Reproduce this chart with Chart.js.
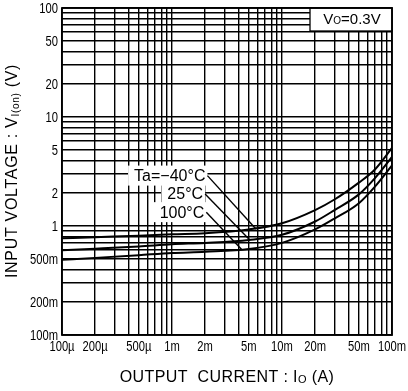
<!DOCTYPE html>
<html>
<head>
<meta charset="utf-8">
<script src="https://cdn.jsdelivr.net/npm/chart.js@4.4.1/dist/chart.umd.min.js"></script>
<style>
  html, body { margin: 0; padding: 0; background: #fff; }
  #wrap { width: 408px; height: 391px; }
</style>
</head>
<body>
<div id="wrap"><canvas id="chart" width="408" height="391"></canvas></div>
<script>
// tick labels (log axes, 1-2-5 labels)
const xTickValues = [1e-4, 2e-4, 5e-4, 1e-3, 2e-3, 5e-3, 1e-2, 2e-2, 5e-2, 1e-1];
const xTickLabels = ['100µ', '200µ', '500µ', '1m', '2m', '5m', '10m', '20m', '50m', '100m'];
const yTickValues = [0.1, 0.2, 0.5, 1, 2, 5, 10, 20, 50, 100];
const yTickLabels = ['100m', '200m', '500m', '1', '2', '5', '10', '20', '50', '100'];

// output current Io (A)
const currentA = [1e-4, 2e-4, 5e-4, 1e-3, 2e-3, 5e-3, 1e-2, 2e-2, 3e-2, 5e-2, 7e-2, 1e-1];
// input voltage VI(on) (V) per ambient temperature
const vMinus40 = [0.77, 0.79, 0.815, 0.84, 0.86, 0.93, 1.06, 1.40, 1.75, 2.5, 3.3, 5.2];
const v25 = [0.60, 0.62, 0.65, 0.68, 0.70, 0.745, 0.83, 1.10, 1.40, 1.95, 2.75, 4.3];
const v100 = [0.49, 0.51, 0.54, 0.565, 0.58, 0.615, 0.70, 0.93, 1.17, 1.62, 2.3, 3.6];

const seriesLabels = ['Ta=\u221240\u00b0C', '25\u00b0C', '100\u00b0C'];

// leader lines from label to curve: [start, end]
const leaderX = [[2.1e-3, 5.8e-3], [2.0e-3, 5.1e-3], [2.05e-3, 4.3e-3]];
const leaderY = [[2.9, 0.94], [1.97, 0.745], [1.34, 0.61]];

function decadeGrid(min, max) {
  const out = [];
  for (let e = Math.round(Math.log10(min)); e < Math.round(Math.log10(max)); e++) {
    for (let m = 1; m < 10; m++) out.push(m * Math.pow(10, e));
  }
  out.push(max);
  return out;
}

const toPoints = ys => currentA.map((x, i) => ({ x: x, y: ys[i] }));

const curveStyle = { borderColor: '#000', borderWidth: 2, pointRadius: 0, fill: false, cubicInterpolationMode: 'monotone' };
const leaderStyle = { borderColor: '#000', borderWidth: 1.4, pointRadius: 0, fill: false, tension: 0 };

const datasets = [
  { data: toPoints(vMinus40), ...curveStyle },
  { data: toPoints(v25), ...curveStyle },
  { data: toPoints(v100), ...curveStyle }
];
leaderX.forEach((xs, i) => {
  datasets.push({ data: xs.map((x, j) => ({ x: x, y: leaderY[i][j] })), ...leaderStyle });
});

const SANS = '"Liberation Sans", Arial, Helvetica, sans-serif';

// white-backed series labels, drawn over the grid but under the curves
const labelPlugin = {
  id: 'labels',
  beforeDatasetsDraw(chart) {
    const ctx = chart.ctx;
    const xs = chart.scales.x, ys = chart.scales.y;
    ctx.save();
    ctx.font = '16px ' + SANS;
    ctx.textBaseline = 'middle';
    ctx.textAlign = 'right';
    seriesLabels.forEach((txt, i) => {
      const px = xs.getPixelForValue(leaderX[i][0]) - 2;
      const py = ys.getPixelForValue(leaderY[i][0]);
      const w = ctx.measureText(txt).width;
      ctx.fillStyle = '#fff';
      ctx.fillRect(px - w - 6, py - 10, w + 8, 20);
    });
    ctx.fillStyle = '#000';
    seriesLabels.forEach((txt, i) => {
      const px = xs.getPixelForValue(leaderX[i][0]) - 2;
      const py = ys.getPixelForValue(leaderY[i][0]) + 1;
      ctx.fillText(txt, px, py);
    });

    // condition box, top right
    const a = chart.chartArea;
    const bx = a.right - 82, by = a.top, bw = 82, bh = 23;
    ctx.fillStyle = '#fff';
    ctx.fillRect(bx, by, bw, bh);
    ctx.strokeStyle = '#000';
    ctx.lineWidth = 1.3;
    ctx.strokeRect(bx, by, bw, bh);
    ctx.fillStyle = '#000';
    ctx.textAlign = 'left';
    const parts = [['V', 15, 0], ['O', 10, 2], ['=0.3V', 15, 0]];
    let tw = 0;
    parts.forEach(p => { ctx.font = p[1] + 'px ' + SANS; tw += ctx.measureText(p[0]).width; });
    let cx = bx + (bw - tw) / 2 + 1;
    parts.forEach(p => {
      ctx.font = p[1] + 'px ' + SANS;
      ctx.fillText(p[0], cx, by + bh / 2 + p[2]);
      cx += ctx.measureText(p[0]).width;
    });
    ctx.restore();
  },
  afterDraw(chart) {
    const ctx = chart.ctx;
    const a = chart.chartArea;
    const xs = chart.scales.x, ys = chart.scales.y;
    ctx.save();
    ctx.strokeStyle = '#000';
    ctx.lineWidth = 1.8;
    ctx.strokeRect(a.left, a.top, a.right - a.left, a.bottom - a.top);

    // condensed tick labels, placed by the scales
    const squeeze = 0.8;
    ctx.fillStyle = '#000';
    ctx.font = '14px ' + SANS;
    ctx.textBaseline = 'middle';
    ctx.textAlign = 'center';
    xTickValues.forEach((v, i) => {
      ctx.save();
      ctx.translate(xs.getPixelForValue(v), a.bottom + 12);
      ctx.scale(squeeze, 1);
      ctx.fillText(xTickLabels[i], 0, 0);
      ctx.restore();
    });
    ctx.textAlign = 'right';
    yTickValues.forEach((v, i) => {
      ctx.save();
      ctx.translate(a.left - 4, ys.getPixelForValue(v) + 1);
      ctx.scale(squeeze, 1);
      ctx.fillText(yTickLabels[i], 0, 0);
      ctx.restore();
    });

    // axis titles with subscripts
    function drawParts(parts, x, y, rot, spacing) {
      ctx.save();
      ctx.translate(x, y);
      if (rot) ctx.rotate(-Math.PI / 2);
      ctx.textBaseline = 'middle';
      ctx.textAlign = 'left';
      ctx.letterSpacing = spacing;
      let tw = 0;
      parts.forEach(p => { ctx.font = p[1] + 'px ' + SANS; tw += ctx.measureText(p[0]).width; });
      let cx = -tw / 2;
      parts.forEach(p => {
        ctx.font = p[1] + 'px ' + SANS;
        ctx.fillStyle = '#000';
        ctx.fillText(p[0], cx, p[2]);
        cx += ctx.measureText(p[0]).width;
      });
      ctx.restore();
    }
    drawParts([['INPUT VOLTAGE : V', 16, 0], ['I(on)', 10, 3], [' (V)', 16, 0]], 13, 171, true, '0.7px');
    drawParts([['OUTPUT  CURRENT : I', 16, 0], ['O', 11, 2], [' (A)', 16, 0]], 227, 378, false, '0.4px');
    ctx.restore();
  }
};

const gridStyle = { color: '#000', lineWidth: 1.4, drawTicks: false };

new Chart(document.getElementById('chart').getContext('2d'), {
  type: 'line',
  data: { datasets: datasets },
  options: {
    responsive: false,
    animation: false,
    devicePixelRatio: 1,
    layout: { padding: { left: 0, right: 16, top: 8, bottom: 0 } },
    scales: {
      x: {
        type: 'logarithmic',
        min: 1e-4,
        max: 1e-1,
        afterBuildTicks: s => { s.ticks = decadeGrid(1e-4, 1e-1).map(v => ({ value: v })); },
        afterFit: s => { s.height = 56; },
        ticks: { display: false },
        grid: gridStyle,
        border: { display: false }
      },
      y: {
        type: 'logarithmic',
        min: 0.1,
        max: 100,
        afterBuildTicks: s => { s.ticks = decadeGrid(0.1, 100).map(v => ({ value: v })); },
        afterFit: s => { s.width = 62; },
        ticks: { display: false },
        grid: gridStyle,
        border: { display: false }
      }
    },
    plugins: {
      legend: { display: false },
      tooltip: { enabled: false }
    }
  },
  plugins: [labelPlugin]
});
</script>
</body>
</html>
